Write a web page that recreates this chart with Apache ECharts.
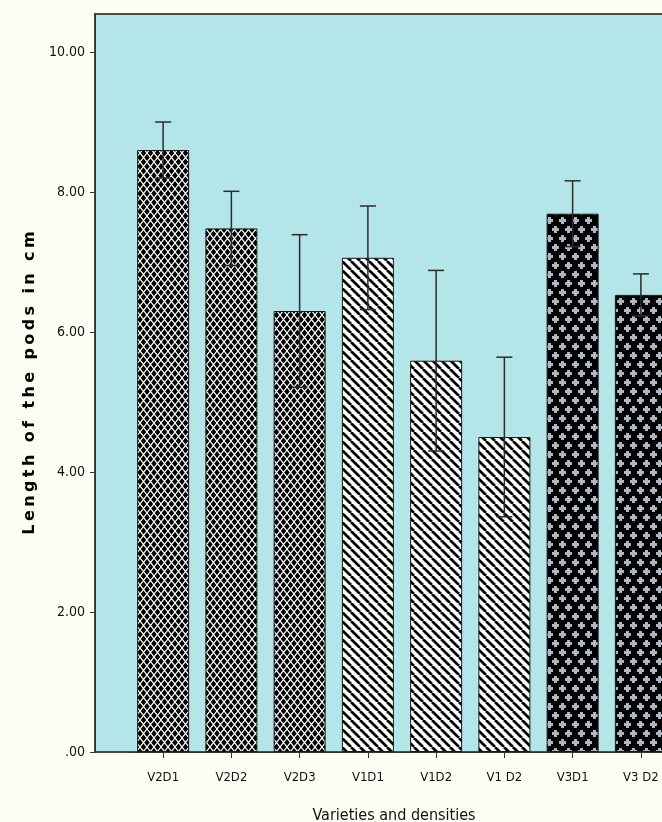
<!DOCTYPE html>
<html>
<head>
<meta charset="utf-8">
<script src="https://cdn.jsdelivr.net/npm/echarts@6/dist/echarts.min.js"></script>
<style>
  html, body { margin: 0; padding: 0; background: #fefdf4; }
  #chart { width: 662px; height: 822px; }
</style>
</head>
<body>
<div id="chart"></div>
<script>
// Pod length by variety and planting density (mean with error bars)
const categories = ['V2D1', 'V2D2', 'V2D3', 'V1D1', 'V1D2', 'V1 D2', 'V3D1', 'V3 D2'];
const meanLength = [8.60, 7.48, 6.30, 7.06, 5.59, 4.50, 7.69, 6.53];
const errorHalf  = [0.40, 0.53, 1.09, 0.74, 1.29, 1.14, 0.47, 0.30];
const yTicks = [0, 2, 4, 6, 8, 10];
const yTitle = 'Length of the pods in cm';

// Fill patterns, one per variety
function lattice() {
  const c = document.createElement('canvas');
  c.width = 7; c.height = 9;
  const g = c.getContext('2d');
  g.fillStyle = '#000'; g.fillRect(0, 0, 7, 9);
  g.strokeStyle = '#fff'; g.lineWidth = 1.2;
  g.beginPath();
  g.moveTo(0, 0); g.lineTo(7, 9);
  g.moveTo(7, 0); g.lineTo(0, 9);
  g.stroke();
  return { image: c, repeat: 'repeat' };
}
function stripes() {
  const c = document.createElement('canvas');
  c.width = 9; c.height = 9;
  const g = c.getContext('2d');
  g.fillStyle = '#fff'; g.fillRect(0, 0, 9, 9);
  g.strokeStyle = '#000'; g.lineWidth = 2.7;
  g.beginPath();
  for (let k = -9; k <= 9; k += 9) { g.moveTo(k, 0); g.lineTo(k + 9, 9); }
  g.stroke();
  return { image: c, repeat: 'repeat' };
}
function pluses() {
  const c = document.createElement('canvas');
  c.width = 13; c.height = 18;
  const g = c.getContext('2d');
  g.fillStyle = '#000'; g.fillRect(0, 0, 13, 18);
  g.fillStyle = '#adb6c1';
  [[3.5, 4.5], [9.5, 13.5]].forEach(([x, y]) => {
    g.fillRect(x - 3.5, y - 1.5, 7, 3);
    g.fillRect(x - 1.5, y - 3.5, 3, 7);
  });
  return { image: c, repeat: 'repeat' };
}
const fills = { V2: lattice(), V1: stripes(), V3: pluses() };

const barData = meanLength.map((v, i) => ({
  value: v,
  itemStyle: { color: fills[categories[i].slice(0, 2)] }
}));
const errData = meanLength.map((v, i) => [i, v - errorHalf[i], v + errorHalf[i]]);

// letter-spaced axis title: each glyph is its own rich-text run with side padding
const spacedTitle = yTitle.split('').map(ch => '{c|' + ch + '}').join('');

const narrow = "'Liberation Sans Narrow', 'Arial Narrow', 'DejaVu Sans Condensed', sans-serif";
const titleFont = { color: '#000', fontFamily: "'DejaVu Sans', sans-serif", fontWeight: 'bold', fontSize: 16 };

const chart = echarts.init(document.getElementById('chart'), null, { renderer: 'canvas' });
chart.setOption({
  backgroundColor: '#fefdf4',
  animation: false,
  grid: [
    { left: 95, top: 14, width: 640, bottom: 70, show: true, outerBoundsMode: 'none',
      containLabel: false,
      backgroundColor: '#b4e5e8', borderColor: '#4a4a4a', borderWidth: 2 },
    { left: 129, top: 14, width: 546, bottom: 70, outerBoundsMode: 'none', containLabel: false }
  ],
  xAxis: [
    { gridIndex: 0, type: 'value', show: false },
    {
      gridIndex: 1, type: 'category', data: categories, boundaryGap: true,
      axisLine: { show: true, lineStyle: { color: '#333', width: 1 } },
      axisTick: { show: true, alignWithLabel: true, length: 6, lineStyle: { color: '#333' } },
      axisLabel: { color: '#111', fontFamily: narrow, fontSize: 13, margin: 19 },
      name: 'Varieties and densities', nameLocation: 'middle', nameGap: 56,
      nameTextStyle: { color: '#111', fontFamily: narrow, fontSize: 16, padding: [0, 16, 0, 0] }
    }
  ],
  yAxis: [
    { gridIndex: 0, type: 'value', show: false },
    {
      gridIndex: 1, type: 'value', min: 0, max: 10.543, interval: 2, offset: 34,
      splitLine: { show: false },
      axisLine: { show: true, lineStyle: { color: '#333', width: 1 } },
      axisTick: { show: true, length: 5, lineStyle: { color: '#333' } },
      axisLabel: {
        color: '#111', fontFamily: narrow, fontSize: 14, margin: 10, showMaxLabel: false,
        formatter: v => yTicks.includes(v) ? (v === 0 ? '.00' : v.toFixed(2)) : ''
      },
      name: spacedTitle, nameLocation: 'middle', nameGap: 49,
      nameTextStyle: Object.assign({}, titleFont, {
        rich: { c: Object.assign({}, titleFont, { padding: [0, 1.7] }) }
      })
    }
  ],
  series: [
    {
      type: 'bar', xAxisIndex: 1, yAxisIndex: 1, barWidth: 52,
      data: barData,
      itemStyle: { borderColor: '#1a1a1a', borderWidth: 1 }
    },
    {
      type: 'custom', xAxisIndex: 1, yAxisIndex: 1, z: 5,
      data: errData,
      renderItem: function (params, api) {
        const lo = api.coord([api.value(0), api.value(1)]);
        const hi = api.coord([api.value(0), api.value(2)]);
        const cap = 8;
        const style = { stroke: '#2b2b2b', lineWidth: 1.5 };
        return {
          type: 'group',
          children: [
            { type: 'line', shape: { x1: hi[0], y1: hi[1], x2: lo[0], y2: lo[1] }, style },
            { type: 'line', shape: { x1: hi[0] - cap, y1: hi[1], x2: hi[0] + cap, y2: hi[1] }, style },
            { type: 'line', shape: { x1: lo[0] - cap, y1: lo[1], x2: lo[0] + cap, y2: lo[1] }, style }
          ]
        };
      }
    }
  ]
});
</script>
</body>
</html>
